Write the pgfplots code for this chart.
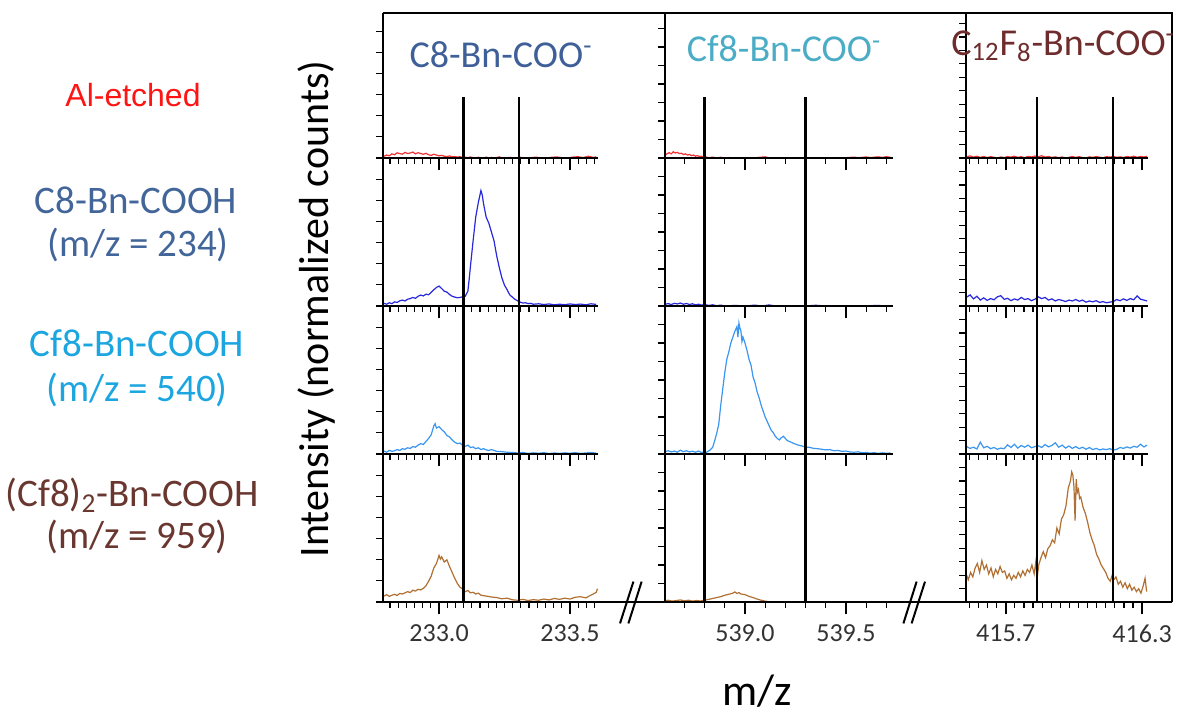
\documentclass[border=0pt]{standalone}
\usepackage{fontspec}
\setmainfont{Carlito}
\newfontfamily\arialfont{Liberation Sans}
\usepackage{pgfplots}
\pgfplotsset{compat=1.18}

\definecolor{lred}{RGB}{240,50,50}
\definecolor{lblue}{RGB}{40,40,220}
\definecolor{lsky}{RGB}{58,150,240}
\definecolor{lbrown}{RGB}{176,112,50}
\definecolor{tred}{RGB}{255,20,20}
\definecolor{tblue}{RGB}{66,101,154}
\definecolor{tsky}{RGB}{27,166,224}
\definecolor{tbrown}{RGB}{106,55,48}
\definecolor{hblue}{RGB}{62,95,151}
\definecolor{hsky}{RGB}{75,172,198}
\definecolor{hbrown}{RGB}{111,44,44}

\pgfplotsset{
  panel/.style={
    scale only axis, anchor=south west, clip=false, axis on top,
    axis x line*=bottom, axis y line*=left,
    axis line style={line width=1pt, black},
    tick align=outside,
    major tick length=3.5pt, minor tick length=2.8pt,
    tick style={black, line width=0.6pt},
    ymin=0, ymax=1, height=74pt,
    yticklabels={}, xticklabels={},
    extra x tick labels={},
    extra x tick style={major tick length=6pt, tick style={black, line width=0.8pt}},
    tick label style={font=\fontsize{13}{13}\selectfont, text=black!80},
    xticklabel style={yshift=-2pt},
  },
  top/.style={height=72.5pt, ymax=0.9797},
  c1/.style={width=107.5pt, xmin=232.786, xmax=233.607,
    xtick={233.0,233.5}, extra x ticks={233.0,233.5},
    minor xtick={232.8125,232.84375,...,233.6},
    ytick={0,0.142857,0.285714,0.428571,0.571429,0.714286,0.857143}},
  c2/.style={width=114pt, xmin=538.604, xmax=539.733,
    xtick={539.0,539.5}, extra x ticks={539.0,539.5},
    minor xtick={538.7,538.8,...,539.75},
    ytick={0,0.125,0.25,0.375,0.5,0.625,0.75,0.875}},
  c3/.style={width=91pt, xmin=415.525, xmax=416.326,
    xtick={415.7,416.3}, extra x ticks={415.7,416.3},
    minor xtick={415.54,415.58,...,416.31},
    ytick={0,0.0909,0.1818,0.2727,0.3636,0.4545,0.5455,0.6364,0.7273,0.8182,0.9091}},
  dat/.style={line width=0.6pt},
  vl/.style={black, line width=1.1pt},
}

\begin{document}
\begin{tikzpicture}
\useasboundingbox (0pt,0pt) rectangle (588.5pt,-359.5pt);

% ---------------- Column 1 -----------------
\begin{axis}[panel, c1, top, at={(191.5pt,-79pt)}]
\addplot[dat, lred] table {
x y
232.79 0.012
232.80 0.020
232.81 0.015
232.82 0.028
232.83 0.022
232.84 0.035
232.85 0.030
232.86 0.026
232.87 0.038
232.88 0.030
232.89 0.034
232.90 0.040
232.91 0.028
232.92 0.036
232.93 0.030
232.94 0.025
232.95 0.032
232.96 0.022
232.97 0.018
232.98 0.026
232.99 0.020
233.00 0.015
233.01 0.018
233.02 0.012
233.03 0.010
233.04 0.014
233.05 0.008
233.06 0.010
233.07 0.006
233.08 0.009
233.09 0.004
233.10 0.006
233.11 0.002
233.12 0.007
233.13 0.003
233.14 0.000
233.15 0.005
233.16 0.002
233.17 0.000
233.18 0.006
233.19 0.001
233.20 0.004
233.21 0.000
233.22 0.003
233.23 0.008
233.24 0.001
233.25 0.000
233.27 0.004
233.29 0.000
233.31 0.005
233.33 0.000
233.35 0.002
233.37 0.006
233.39 0.001
233.41 0.000
233.43 0.005
233.45 0.007
233.47 0.002
233.49 0.000
233.51 0.006
233.53 0.009
233.55 0.003
233.57 0.012
233.59 0.004
233.60 0.008
};
\addplot[vl] coordinates {(233.093,0) (233.093,0.412)};
\addplot[vl] coordinates {(233.305,0) (233.305,0.412)};
\end{axis}

\begin{axis}[panel, c1, at={(191.5pt,-153pt)}]
\addplot[dat, lblue] table {
x y
232.79 0.018
232.80 0.012
232.81 0.022
232.82 0.016
232.83 0.028
232.84 0.024
232.85 0.035
232.86 0.040
232.87 0.034
232.88 0.046
232.89 0.050
232.90 0.058
232.91 0.052
232.92 0.066
232.93 0.074
232.94 0.068
232.95 0.080
232.96 0.076
232.97 0.092
232.98 0.110
232.99 0.125
233.00 0.135
233.01 0.118
233.02 0.100
233.03 0.094
233.04 0.078
233.05 0.066
233.06 0.060
233.07 0.056
233.08 0.058
233.09 0.062
233.10 0.066
233.11 0.100
233.115 0.180
233.12 0.270
233.13 0.440
233.14 0.600
233.15 0.700
233.16 0.780
233.165 0.750
233.17 0.690
233.18 0.600
233.19 0.560
233.20 0.500
233.21 0.440
233.22 0.340
233.23 0.260
233.24 0.190
233.25 0.140
233.26 0.110
233.27 0.075
233.28 0.060
233.29 0.045
233.30 0.035
233.31 0.026
233.32 0.020
233.33 0.022
233.34 0.016
233.35 0.018
233.36 0.012
233.38 0.015
233.40 0.010
233.42 0.014
233.44 0.008
233.46 0.012
233.48 0.009
233.50 0.014
233.52 0.010
233.54 0.013
233.56 0.008
233.58 0.015
233.60 0.011
};
\addplot[vl] coordinates {(233.093,0) (233.093,1)};
\addplot[vl] coordinates {(233.305,0) (233.305,1)};
\end{axis}

\begin{axis}[panel, c1, at={(191.5pt,-227pt)}]
\addplot[dat, lsky] table {
x y
232.79 0.020
232.80 0.012
232.81 0.025
232.82 0.018
232.83 0.022
232.84 0.030
232.85 0.024
232.86 0.036
232.87 0.032
232.88 0.042
232.89 0.038
232.90 0.050
232.91 0.046
232.92 0.060
232.93 0.070
232.94 0.064
232.95 0.085
232.96 0.105
232.97 0.130
232.975 0.160
232.98 0.190
232.985 0.205
232.99 0.175
233.00 0.185
233.01 0.165
233.02 0.150
233.03 0.125
233.04 0.115
233.05 0.095
233.06 0.080
233.07 0.070
233.08 0.074
233.09 0.058
233.10 0.052
233.11 0.060
233.12 0.044
233.13 0.048
233.14 0.036
233.15 0.042
233.16 0.030
233.17 0.036
233.18 0.028
233.19 0.024
233.20 0.030
233.22 0.018
233.24 0.016
233.26 0.012
233.28 0.010
233.30 0.007
233.32 0.010
233.34 0.004
233.36 0.008
233.38 0.005
233.40 0.009
233.42 0.003
233.44 0.007
233.46 0.004
233.48 0.008
233.50 0.005
233.52 0.009
233.54 0.004
233.56 0.007
233.58 0.010
233.60 0.006
};
\addplot[vl] coordinates {(233.093,0) (233.093,1)};
\addplot[vl] coordinates {(233.305,0) (233.305,1)};
\end{axis}

\begin{axis}[panel, c1, at={(191.5pt,-301pt)}, extra x tick labels={233.0,233.5}]
\addplot[dat, lbrown] table {
x y
232.79 0.040
232.80 0.050
232.81 0.038
232.82 0.046
232.83 0.052
232.84 0.044
232.85 0.058
232.86 0.054
232.87 0.062
232.88 0.070
232.89 0.064
232.90 0.080
232.91 0.074
232.92 0.086
232.93 0.082
232.94 0.092
232.95 0.110
232.96 0.140
232.97 0.175
232.98 0.230
232.99 0.260
233.00 0.315
233.005 0.290
233.01 0.305
233.02 0.270
233.03 0.285
233.04 0.240
233.05 0.200
233.06 0.160
233.07 0.125
233.08 0.100
233.09 0.088
233.10 0.070
233.11 0.078
233.12 0.062
233.13 0.066
233.14 0.054
233.15 0.060
233.16 0.046
233.18 0.040
233.20 0.034
233.22 0.030
233.24 0.022
233.26 0.026
233.28 0.015
233.30 0.012
233.32 0.018
233.34 0.010
233.36 0.016
233.38 0.012
233.40 0.020
233.42 0.014
233.44 0.024
233.46 0.018
233.48 0.026
233.50 0.020
233.52 0.032
233.54 0.036
233.56 0.028
233.58 0.046
233.60 0.065
233.605 0.090
};
\addplot[vl] coordinates {(233.093,0) (233.093,1)};
\addplot[vl] coordinates {(233.305,0) (233.305,1)};
\end{axis}

% ---------------- Column 2 -----------------
\begin{axis}[panel, c2, top, at={(332.5pt,-79pt)}]
\addplot[dat, lred] table {
x y
538.605 0.018
538.615 0.030
538.625 0.036
538.635 0.028
538.645 0.042
538.655 0.034
538.665 0.038
538.675 0.030
538.685 0.032
538.695 0.024
538.705 0.028
538.715 0.020
538.725 0.024
538.735 0.016
538.745 0.020
538.755 0.012
538.765 0.016
538.775 0.010
538.785 0.012
538.795 0.006
538.805 0.008
538.82 0.002
538.84 0.006
538.86 0.000
538.88 0.005
538.90 0.000
538.92 0.003
538.94 0.000
539.00 0.000
539.05 0.002
539.10 0.008
539.12 0.000
539.20 0.000
539.30 0.001
539.40 0.000
539.50 0.002
539.54 0.006
539.56 0.002
539.60 0.007
539.62 0.003
539.66 0.008
539.68 0.004
539.70 0.009
539.72 0.005
};
\addplot[vl] coordinates {(538.8,0) (538.8,0.412)};
\addplot[vl] coordinates {(539.3,0) (539.3,0.412)};
\end{axis}

\begin{axis}[panel, c2, at={(332.5pt,-153pt)}]
\addplot[dat, lblue] table {
x y
538.605 0.012
538.62 0.016
538.635 0.010
538.65 0.018
538.665 0.014
538.68 0.020
538.695 0.012
538.71 0.017
538.725 0.010
538.74 0.015
538.755 0.008
538.77 0.012
538.785 0.006
538.80 0.010
538.82 0.004
538.84 0.008
538.86 0.002
538.88 0.006
538.90 0.000
538.95 0.004
539.00 0.000
539.05 0.006
539.08 0.000
539.12 0.007
539.15 0.000
539.20 0.002
539.30 0.000
539.35 0.005
539.40 0.000
539.50 0.001
539.60 0.000
539.65 0.004
539.70 0.001
539.72 0.003
};
\addplot[vl] coordinates {(538.8,0) (538.8,1)};
\addplot[vl] coordinates {(539.3,0) (539.3,1)};
\end{axis}

\begin{axis}[panel, c2, at={(332.5pt,-227pt)}]
\addplot[dat, lsky] table {
x y
538.605 0.016
538.62 0.022
538.635 0.014
538.65 0.020
538.665 0.012
538.68 0.026
538.695 0.016
538.71 0.022
538.725 0.014
538.74 0.019
538.755 0.012
538.77 0.020
538.785 0.010
538.80 0.014
538.81 0.012
538.825 0.025
538.84 0.045
538.85 0.090
538.86 0.140
538.87 0.200
538.88 0.330
538.89 0.440
538.90 0.550
538.91 0.640
538.92 0.690
538.93 0.750
538.94 0.790
538.95 0.830
538.96 0.860
538.965 0.790
538.97 0.885
538.975 0.850
538.98 0.830
538.985 0.760
538.99 0.790
539.00 0.750
539.01 0.700
539.02 0.640
539.03 0.600
539.04 0.520
539.05 0.480
539.06 0.420
539.07 0.380
539.08 0.330
539.09 0.290
539.10 0.250
539.11 0.220
539.12 0.190
539.13 0.160
539.14 0.145
539.15 0.120
539.16 0.105
539.17 0.095
539.18 0.110
539.19 0.120
539.20 0.105
539.21 0.090
539.22 0.085
539.24 0.072
539.26 0.062
539.28 0.055
539.30 0.047
539.32 0.045
539.34 0.038
539.36 0.036
539.38 0.032
539.40 0.028
539.42 0.030
539.44 0.022
539.46 0.024
539.48 0.018
539.50 0.020
539.52 0.014
539.54 0.012
539.56 0.015
539.58 0.008
539.60 0.010
539.62 0.006
539.64 0.009
539.66 0.004
539.68 0.008
539.70 0.005
539.72 0.007
};
\addplot[vl] coordinates {(538.8,0) (538.8,1)};
\addplot[vl] coordinates {(539.3,0) (539.3,1)};
\end{axis}

\begin{axis}[panel, c2, at={(332.5pt,-301pt)}, extra x tick labels={539.0,539.5}]
\addplot[dat, lbrown] table {
x y
538.605 0.008
538.62 0.012
538.64 0.006
538.66 0.010
538.68 0.014
538.70 0.008
538.72 0.012
538.74 0.006
538.76 0.010
538.78 0.007
538.80 0.012
538.82 0.018
538.84 0.024
538.86 0.030
538.88 0.036
538.90 0.046
538.92 0.052
538.94 0.060
538.95 0.068
538.96 0.058
538.97 0.064
538.98 0.054
539.00 0.050
539.02 0.038
539.04 0.030
539.06 0.020
539.08 0.012
539.10 0.006
539.12 0.002
539.15 0.000
539.72 0.000
};
\addplot[vl] coordinates {(538.8,0) (538.8,1)};
\addplot[vl] coordinates {(539.3,0) (539.3,1)};
\end{axis}

% ---------------- Column 3 -----------------
\begin{axis}[panel, c3, top, at={(483pt,-79pt)}]
\addplot[dat, lred] table {
x y
415.528 0.008
415.543 0.014
415.558 0.006
415.573 0.012
415.588 0.004
415.603 0.010
415.618 0.003
415.633 0.009
415.648 0.005
415.663 0.000
415.678 0.007
415.693 0.003
415.708 0.010
415.723 0.006
415.738 0.012
415.753 0.004
415.768 0.009
415.783 0.002
415.798 0.011
415.813 0.007
415.828 0.013
415.843 0.009
415.858 0.015
415.873 0.006
415.888 0.010
415.903 0.004
415.918 0.008
415.933 0.002
415.948 0.007
415.963 0.000
415.978 0.005
415.993 0.010
416.008 0.004
416.023 0.009
416.038 0.003
416.053 0.000
416.068 0.008
416.083 0.004
416.098 0.010
416.113 0.005
416.128 0.002
416.143 0.009
416.158 0.006
416.173 0.011
416.188 0.004
416.203 0.008
416.218 0.003
416.233 0.010
416.248 0.006
416.263 0.012
416.278 0.005
416.293 0.010
416.308 0.007
416.322 0.012
};
\addplot[vl] coordinates {(415.836,0) (415.836,0.412)};
\addplot[vl] coordinates {(416.171,0) (416.171,0.412)};
\end{axis}

\begin{axis}[panel, c3, at={(483pt,-153pt)}]
\addplot[dat, lblue] table {
x y
415.528 0.060
415.543 0.075
415.558 0.048
415.573 0.066
415.588 0.040
415.603 0.055
415.618 0.038
415.633 0.050
415.648 0.042
415.663 0.062
415.678 0.070
415.693 0.045
415.708 0.052
415.723 0.036
415.738 0.048
415.753 0.040
415.768 0.058
415.783 0.044
415.798 0.050
415.813 0.036
415.828 0.046
415.843 0.062
415.858 0.050
415.873 0.058
415.888 0.040
415.903 0.048
415.918 0.034
415.933 0.044
415.948 0.038
415.963 0.030
415.978 0.040
415.993 0.034
416.008 0.044
416.023 0.032
416.038 0.040
416.053 0.026
416.068 0.034
416.083 0.028
416.098 0.036
416.113 0.024
416.128 0.030
416.143 0.022
416.158 0.026
416.173 0.030
416.188 0.044
416.203 0.036
416.218 0.048
416.233 0.038
416.248 0.050
416.263 0.042
416.278 0.068
416.293 0.046
416.308 0.040
416.322 0.034
};
\addplot[vl] coordinates {(415.836,0) (415.836,1)};
\addplot[vl] coordinates {(416.171,0) (416.171,1)};
\end{axis}

\begin{axis}[panel, c3, at={(483pt,-227pt)}]
\addplot[dat, lsky] table {
x y
415.528 0.050
415.543 0.038
415.558 0.046
415.573 0.034
415.588 0.080
415.603 0.042
415.618 0.052
415.633 0.036
415.648 0.044
415.663 0.032
415.678 0.040
415.693 0.036
415.708 0.062
415.723 0.044
415.738 0.066
415.753 0.040
415.768 0.058
415.783 0.046
415.798 0.060
415.813 0.042
415.828 0.050
415.843 0.056
415.858 0.044
415.873 0.064
415.888 0.048
415.903 0.058
415.918 0.076
415.933 0.046
415.948 0.060
415.963 0.040
415.978 0.054
415.993 0.038
416.008 0.050
416.023 0.036
416.038 0.046
416.053 0.032
416.068 0.044
416.083 0.030
416.098 0.038
416.113 0.028
416.128 0.034
416.143 0.030
416.158 0.036
416.173 0.026
416.188 0.032
416.203 0.044
416.218 0.038
416.233 0.048
416.248 0.040
416.263 0.052
416.278 0.046
416.293 0.066
416.308 0.048
416.322 0.060
};
\addplot[vl] coordinates {(415.836,0) (415.836,1)};
\addplot[vl] coordinates {(416.171,0) (416.171,1)};
\end{axis}

\begin{axis}[panel, c3, at={(483pt,-301pt)}, extra x tick labels={415.7,416.3}]
\addplot[dat, lbrown] table {
x y
415.528 0.180
415.535 0.150
415.545 0.200
415.555 0.170
415.565 0.230
415.575 0.260
415.585 0.200
415.595 0.280
415.605 0.220
415.615 0.250
415.625 0.190
415.635 0.230
415.645 0.170
415.655 0.220
415.665 0.190
415.675 0.240
415.685 0.200
415.695 0.210
415.705 0.160
415.715 0.190
415.725 0.150
415.735 0.180
415.745 0.160
415.755 0.200
415.765 0.170
415.775 0.210
415.785 0.180
415.795 0.220
415.805 0.200
415.815 0.250
415.825 0.190
415.832 0.270
415.838 0.160
415.845 0.250
415.855 0.300
415.865 0.340
415.875 0.300
415.885 0.360
415.895 0.380
415.905 0.420
415.915 0.400
415.925 0.500
415.935 0.460
415.945 0.560
415.955 0.590
415.965 0.650
415.975 0.770
415.985 0.820
415.990 0.880
415.995 0.860
416.000 0.780
416.005 0.550
416.010 0.830
416.015 0.740
416.020 0.760
416.025 0.700
416.030 0.710
416.040 0.640
416.050 0.600
416.060 0.540
416.070 0.470
416.080 0.420
416.090 0.380
416.100 0.320
416.110 0.290
416.120 0.250
416.130 0.225
416.140 0.200
416.150 0.160
416.160 0.140
416.170 0.190
416.175 0.150
416.185 0.170
416.195 0.120
416.205 0.140
416.215 0.100
416.225 0.130
416.235 0.090
416.245 0.120
416.255 0.080
416.265 0.100
416.275 0.070
416.285 0.090
416.295 0.060
416.305 0.110
416.313 0.160
416.320 0.070
};
\addplot[vl] coordinates {(415.836,0) (415.836,1)};
\addplot[vl] coordinates {(416.171,0) (416.171,1)};
\end{axis}

% ---------------- frame and breaks -----------------
\draw[line width=1pt] (191.5pt,-6.5pt) -- (586pt,-6.5pt) -- (586pt,-301pt);
\draw[line width=1pt] (191.5pt,-301pt) -- (586pt,-301pt);
\draw[line width=1pt] (316.7pt,-290.8pt) -- (310pt,-311.7pt);
\draw[line width=1pt] (320.8pt,-290.8pt) -- (314.2pt,-311.7pt);
\draw[line width=1pt] (458.3pt,-290.8pt) -- (451.7pt,-311.7pt);
\draw[line width=1pt] (462.5pt,-290.8pt) -- (455.8pt,-311.7pt);

% ---------------- titles and labels -----------------
\node[anchor=base, text=hblue, inner sep=0pt, font=\fontsize{19}{22}\selectfont] at (250.5pt,-33.5pt) {C8-Bn-COO\textsuperscript{-}};
\node[anchor=base, text=hsky, inner sep=0pt, font=\fontsize{19}{22}\selectfont] at (392pt,-30.8pt) {Cf8-Bn-COO\textsuperscript{-}};
\node[anchor=base west, text=hbrown, inner sep=0pt, font=\fontsize{19}{22}\selectfont] at (475.5pt,-27.5pt) {C\textsubscript{12}F\textsubscript{8}-Bn-COO\textsuperscript{-}};

\node[anchor=base, text=tred, inner sep=0pt, font=\arialfont\fontsize{16}{19}\selectfont] at (66.5pt,-53.3pt) {Al-etched};
\node[anchor=base, text=tblue, inner sep=0pt, font=\fontsize{19.5}{23}\selectfont] at (68pt,-106.5pt) {C8-Bn-COOH};
\node[anchor=base, text=tblue, inner sep=0pt, font=\fontsize{19.5}{23}\selectfont] at (69pt,-128.3pt) {(m/z = 234)};
\node[anchor=base, text=tsky, inner sep=0pt, font=\fontsize{19.5}{23}\selectfont] at (68.5pt,-178.3pt) {Cf8-Bn-COOH};
\node[anchor=base, text=tsky, inner sep=0pt, font=\fontsize{19.5}{23}\selectfont] at (68.5pt,-200.8pt) {(m/z = 540)};
\node[anchor=base, text=tbrown, inner sep=0pt, font=\fontsize{19.5}{23}\selectfont] at (66pt,-253.3pt) {(Cf8)\textsubscript{2}-Bn-COOH};
\node[anchor=base, text=tbrown, inner sep=0pt, font=\fontsize{19.5}{23}\selectfont] at (68.5pt,-274.2pt) {(m/z = 959)};

\node[anchor=base, rotate=90, inner sep=0pt, font=\fontsize{21}{25}\selectfont] at (164pt,-154.5pt) {Intensity (normalized counts)};
\node[anchor=base, inner sep=0pt, font=\fontsize{22}{26}\selectfont] at (378.5pt,-352.5pt) {m/z};
\end{tikzpicture}
\end{document}
